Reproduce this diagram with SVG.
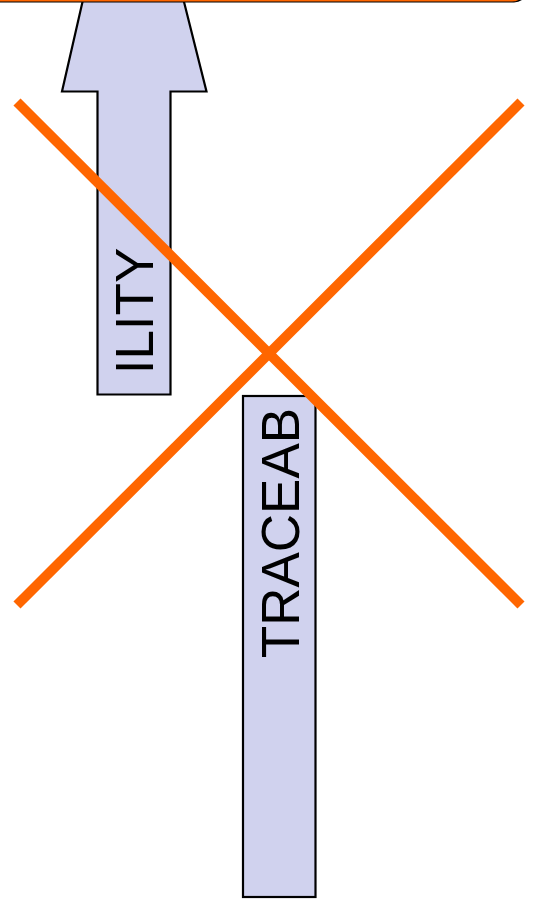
<svg xmlns="http://www.w3.org/2000/svg" width="539" height="901" viewBox="0 0 539 901">
<style>
.blk{fill:#D0D2EE;stroke:#000;stroke-width:2.2;stroke-linejoin:miter}
.lbl{font-family:"Liberation Sans",Arial,sans-serif;font-size:53px;fill:#000;text-anchor:middle}
.cross{stroke:#FF6600;stroke-width:10;stroke-linecap:butt;fill:none}
</style>
<g id="arrow-ility">
<polygon class="blk" points="87.5,-20 178.5,-20 206.5,91.5 170.5,91.5 170.5,394.5 97.5,394.5 97.5,91.5 62,91.5"/>
<text class="lbl" transform="translate(153,311) rotate(-90)">ILITY</text>
</g>
<g id="top-box">
<rect x="-30" y="-58" width="558" height="60.5" rx="14" fill="#000"/>
<rect x="-30" y="-60" width="556" height="60.5" rx="14" fill="#fff" stroke="#FF6600" stroke-width="2"/>
</g>
<g id="box-traceab">
<rect class="blk" x="243" y="396" width="72.5" height="501"/>
<text class="lbl" transform="translate(298.5,533) rotate(-90)">TRACEAB</text>
</g>
<g id="connectors">
<line class="cross" x1="17" y1="102" x2="521" y2="605"/>
<line class="cross" x1="521" y1="102" x2="17" y2="605"/>
</g>
</svg>
